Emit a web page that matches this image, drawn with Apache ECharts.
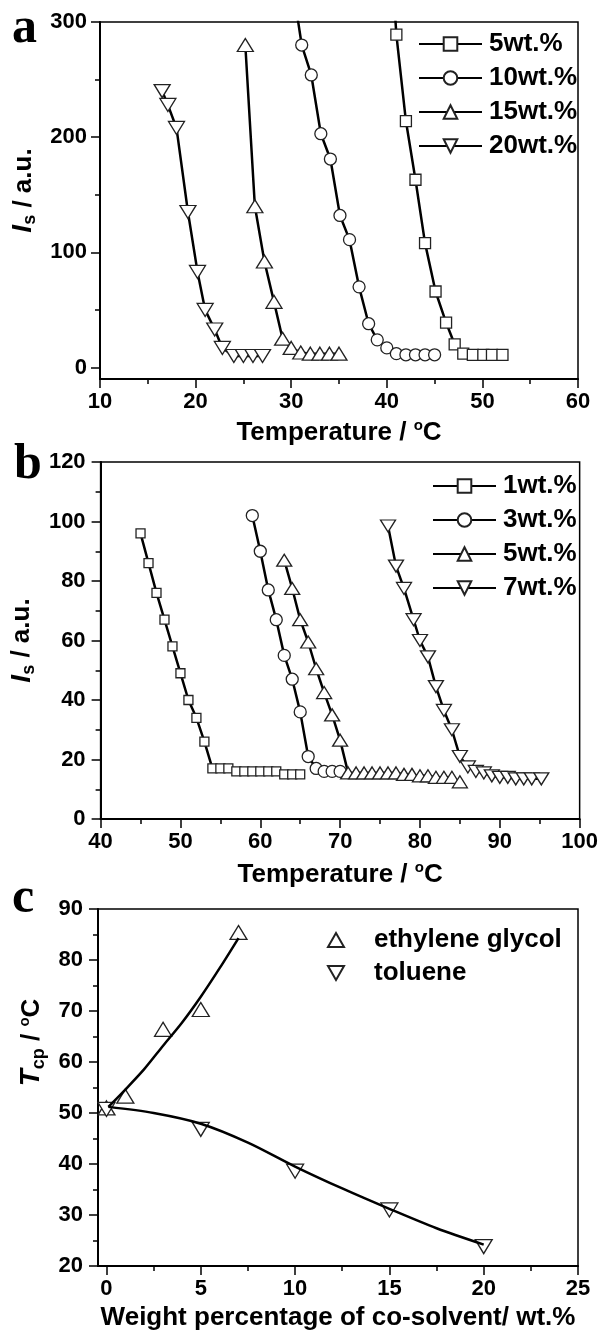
<!DOCTYPE html>
<html>
<head>
<meta charset="utf-8">
<script src="https://cdn.jsdelivr.net/npm/echarts@6/dist/echarts.min.js"></script>
<style>
  body { margin: 0; background: #fff; }
  #runChart { width: 601px; height: 1333px; }
</style>
</head>
<body>
<div id="runChart"></div>
<script>
// panel a : scattered intensity vs temperature
let aLabels = ["5wt.%", "10wt.%", "15wt.%", "20wt.%"];
let aX5 = [40, 41, 42, 43, 44, 45.1, 46.2, 47.1, 48, 49, 50.1, 51, 52.1];
let aY5 = [420, 289, 214, 163, 108, 66, 39, 20, 12, 11, 11, 11, 11];
let aX10 = [30, 31.1, 32.1, 33.1, 34.1, 35.1, 36.1, 37.1, 38.1, 39, 40, 41, 42, 43, 44, 45];
let aY10 = [340, 280, 254, 203, 181, 132, 111, 70, 38, 24, 17, 12, 11, 11, 11, 11];
let aX15 = [25.2, 26.2, 27.2, 28.2, 29.1, 30, 31, 32, 33, 34, 35];
let aY15 = [280, 140, 92, 57, 25, 17, 13, 12, 12, 12, 12];
let aX20 = [16.5, 17.1, 18, 19.2, 20.2, 21, 22, 22.8, 24, 25, 26, 27];
let aY20 = [240, 228, 208, 135, 83, 50, 33, 17, 10, 10, 10, 10];
let aYTicks = [0, 100, 200, 300];
let aYMinor = [50, 150, 250];

// panel b
let bLabels = ["1wt.%", "3wt.%", "5wt.%", "7wt.%"];
let bX1 = [45, 46, 47, 48, 49, 50, 51, 52, 53, 54, 55, 56, 57, 58, 59, 60, 61, 62, 63, 64, 65];
let bY1 = [96, 86, 76, 67, 58, 49, 40, 34, 26, 17, 17, 17, 16, 16, 16, 16, 16, 16, 15, 15, 15];
let bX3 = [59, 60, 61, 62, 63, 64, 65, 66, 67, 68, 69, 70];
let bY3 = [102, 90, 77, 67, 55, 47, 36, 21, 17, 16, 16, 16];
let bX5 = [63, 64, 65, 66, 67, 68, 69, 70, 71, 72, 73, 74, 75, 76, 77, 78, 79, 80, 81, 82, 83, 84, 85];
let bY5 = [87, 77.5, 67, 59.5, 50.5, 42.5, 35, 26.5, 15.5, 15.5, 15.5, 15.5, 15.5, 15.5, 15.5, 15, 15, 14.5, 14.5, 14, 14, 14, 12.5];
let bX7 = [76, 77, 78, 79.2, 80, 81, 82, 83, 84, 85, 86, 87, 88, 89, 90, 91, 92, 93, 94, 95.2];
let bY7 = [98.5, 85, 77.5, 67, 60, 54.5, 44.5, 36.5, 30, 21, 17.5, 16, 15.5, 14.5, 14, 14, 13.5, 13.5, 13.5, 13.5];

// panel c : cloud point vs co-solvent
let cLabels = ["ethylene glycol", "toluene"];
let egX = [0, 1, 3, 5, 7];
let egY = [51, 53.3, 66.4, 70.3, 85.4];
let tolX = [0, 5, 10, 15, 20];
let tolY = [50.7, 46.8, 38.6, 31, 23.8];
// fitted curves
let egFitX = [0.1, 1, 2, 3, 4, 5, 6, 7];
let egFitY = [51.2, 54.6, 58.6, 63.2, 67.7, 72.8, 78.4, 84.3];
let tolFitX = [0.1, 2.5, 5, 7.5, 10, 12.5, 15, 17.5, 20];
let tolFitY = [51.2, 50, 47.9, 44.2, 39.5, 35.2, 31.2, 27.4, 24.2];
let cXTicks = [0, 5, 10, 15, 20, 25];
let cXMinor = [2.5, 7.5, 12.5, 17.5, 22.5];

const FONT = '"Liberation Sans", Arial, sans-serif';
const upTri = "path://M5,0L10,8.66L0,8.66Z";
const downTri = "path://M0,0L10,0L5,8.66Z";

function pts(xs, ys) {
  return xs.map((x, i) => [x, ys[i]]);
}

let lbl = { color: "#000", fontSize: 22, fontWeight: "bold", fontFamily: FONT, margin: 13 };
let line = { onZero: false, lineStyle: { color: "#000", width: 2 } };
let tick = { length: 9, lineStyle: { color: "#000", width: 1.5 } };
let minor = { show: true, splitNumber: 2, length: 5, lineStyle: { color: "#000", width: 1.5 } };
let rich = {
  i: { fontSize: 28, fontStyle: "italic", fontWeight: "bold", fontFamily: FONT, color: "#000" },
  s: { fontSize: 18, fontWeight: "bold", fontFamily: FONT, color: "#000", padding: [14, 0, 0, 0] },
  n: { fontSize: 26, fontWeight: "bold", fontFamily: FONT, color: "#000" },
  o: { fontSize: 15, fontWeight: "bold", fontFamily: FONT, color: "#000", padding: [0, 0, 14, 0] }
};
let nameStyle = { fontSize: 26, fontWeight: "bold", fontFamily: FONT, color: "#000", rich: rich };

function lineSeries(name, xs, ys, xi, yi, symbol, size) {
  return {
    name: name,
    type: "line",
    xAxisIndex: xi,
    yAxisIndex: yi,
    data: pts(xs, ys),
    symbol: symbol,
    symbolSize: size,
    showSymbol: true,
    clip: true,
    lineStyle: { color: "#000", width: 2.5 },
    itemStyle: { color: "#fff", borderColor: "#222", borderWidth: 1.3 }
  };
}

let legendText = { fontSize: 26, fontWeight: "bold", fontFamily: FONT, color: "#000", padding: [0, 0, 0, 2] };

let option = {
  animation: false,
  backgroundColor: "#fff",
  grid: [
    { left: 100, top: 22, width: 478, height: 357, show: true, borderColor: "#000", borderWidth: 1.5 },
    { left: 98, top: 462, width: 482, height: 357, show: true, borderColor: "#000", borderWidth: 1.5 },
    { left: 98, top: 909, width: 480, height: 357, show: true, borderColor: "#000", borderWidth: 1.5 }
  ],
  legend: [
    {
      orient: "vertical", left: 413, top: 26, itemWidth: 63, itemHeight: 17, itemGap: 8,
      selectedMode: false, textStyle: legendText,
      data: aLabels.map(l => "a:" + l), formatter: n => n.slice(2)
    },
    {
      orient: "vertical", left: 427, top: 468, itemWidth: 63, itemHeight: 17, itemGap: 8,
      selectedMode: false, textStyle: legendText,
      data: bLabels.map(l => "b:" + l), formatter: n => n.slice(2)
    },
    {
      orient: "vertical", left: 322, top: 922, itemWidth: 16, itemHeight: 14, itemGap: 7,
      selectedMode: false, textStyle: Object.assign({}, legendText, { padding: [0, 0, 0, 25] }),
      data: cLabels
    }
  ],
  graphic: [
    { type: "text", x: 12, y: 29, style: { text: "a", font: 'bold 50px "Liberation Serif"', fill: "#000", verticalAlign: "middle" } },
    { type: "text", x: 14, y: 465, style: { text: "b", font: 'bold 50px "Liberation Serif"', fill: "#000", verticalAlign: "middle" } },
    { type: "text", x: 12, y: 899, style: { text: "c", font: 'bold 50px "Liberation Serif"', fill: "#000", verticalAlign: "middle" } }
  ],
  xAxis: [
    {
      type: "value", gridIndex: 0, min: 10, max: 60, interval: 10,
      axisLine: line, axisTick: tick, minorTick: minor, splitLine: { show: false },
      axisLabel: Object.assign({}, lbl, { margin: 12 }),
      name: "Temperature / {o|o}C", nameLocation: "middle", nameGap: 39, nameTextStyle: nameStyle
    },
    {
      type: "value", gridIndex: 1, min: 40, max: 100, interval: 10,
      axisLine: line, axisTick: tick, minorTick: minor, splitLine: { show: false },
      axisLabel: Object.assign({}, lbl, { margin: 12 }),
      name: "Temperature / {o|o}C", nameLocation: "middle", nameGap: 41, nameTextStyle: nameStyle
    },
    {
      type: "value", gridIndex: 2, min: -0.45, max: 25, position: "bottom",
      axisLine: line, splitLine: { show: false },
      axisTick: Object.assign({}, tick, { customValues: cXTicks }),
      axisLabel: Object.assign({}, lbl, { margin: 12, customValues: cXTicks }),
      name: "Weight percentage of co-solvent/ wt.%", nameLocation: "middle", nameGap: 39, nameTextStyle: nameStyle
    },
    {
      type: "value", gridIndex: 2, min: -0.45, max: 25, position: "bottom",
      axisLine: { show: false, onZero: false }, splitLine: { show: false }, axisLabel: { show: false },
      axisTick: { length: 5, lineStyle: { color: "#000", width: 1.5 }, customValues: cXMinor }
    }
  ],
  yAxis: [
    {
      type: "value", gridIndex: 0, min: -10, max: 300, position: "left",
      axisLine: line, splitLine: { show: false },
      axisTick: Object.assign({}, tick, { customValues: aYTicks }),
      axisLabel: Object.assign({}, lbl, { customValues: aYTicks }),
      name: "{i|I}{s|s}{n| / a.u.}", nameLocation: "middle", nameGap: 44,
      nameTextStyle: Object.assign({}, nameStyle, { padding: [0, 0, 0, 20] })
    },
    {
      type: "value", gridIndex: 0, min: -10, max: 300, position: "left",
      axisLine: { show: false, onZero: false }, splitLine: { show: false }, axisLabel: { show: false },
      axisTick: { length: 5, lineStyle: { color: "#000", width: 1.5 }, customValues: aYMinor }
    },
    {
      type: "value", gridIndex: 1, min: 0, max: 120, interval: 20, position: "left",
      axisLine: line, axisTick: tick, minorTick: minor, splitLine: { show: false },
      axisLabel: Object.assign({}, lbl, { margin: 15 }),
      name: "{i|I}{s|s}{n| / a.u.}", nameLocation: "middle", nameGap: 42, nameTextStyle: nameStyle
    },
    {
      type: "value", gridIndex: 2, min: 20, max: 90, interval: 10, position: "left",
      axisLine: line, axisTick: tick, minorTick: minor, splitLine: { show: false },
      axisLabel: Object.assign({}, lbl, { margin: 15 }),
      name: "{i|T}{s|cp}{n| / }{o|o}{n|C}", nameLocation: "middle", nameGap: 42,
      nameTextStyle: Object.assign({}, nameStyle, { padding: [0, 0, 0, 90] })
    }
  ],
  series: [
    lineSeries("a:" + aLabels[0], aX5, aY5, 0, 0, "rect", 11),
    lineSeries("a:" + aLabels[1], aX10, aY10, 0, 0, "circle", 12),
    lineSeries("a:" + aLabels[2], aX15, aY15, 0, 0, upTri, [16, 13]),
    lineSeries("a:" + aLabels[3], aX20, aY20, 0, 0, downTri, [16, 13]),
    lineSeries("b:" + bLabels[0], bX1, bY1, 1, 2, "rect", 9),
    lineSeries("b:" + bLabels[1], bX3, bY3, 1, 2, "circle", 12),
    lineSeries("b:" + bLabels[2], bX5, bY5, 1, 2, upTri, [15, 12]),
    lineSeries("b:" + bLabels[3], bX7, bY7, 1, 2, downTri, [15, 12]),
    {
      type: "line", xAxisIndex: 2, yAxisIndex: 3, data: pts(egFitX, egFitY), smooth: 0.3,
      symbol: "none", lineStyle: { color: "#000", width: 2.5 }
    },
    {
      type: "line", xAxisIndex: 2, yAxisIndex: 3, data: pts(tolFitX, tolFitY), smooth: 0.3,
      symbol: "none", lineStyle: { color: "#000", width: 2.5 }
    },
    {
      name: cLabels[0], type: "scatter", xAxisIndex: 2, yAxisIndex: 3, data: pts(egX, egY),
      symbol: upTri, symbolSize: [17, 14],
      itemStyle: { color: "#fff", borderColor: "#222", borderWidth: 1.3, opacity: 1 }
    },
    {
      name: cLabels[1], type: "scatter", xAxisIndex: 2, yAxisIndex: 3, data: pts(tolX, tolY),
      symbol: downTri, symbolSize: [17, 14],
      itemStyle: { color: "#fff", borderColor: "#222", borderWidth: 1.3, opacity: 1 }
    }
  ]
};

var myChart = echarts.init(document.getElementById("runChart"));
myChart.setOption(option);
</script>
</body>
</html>
